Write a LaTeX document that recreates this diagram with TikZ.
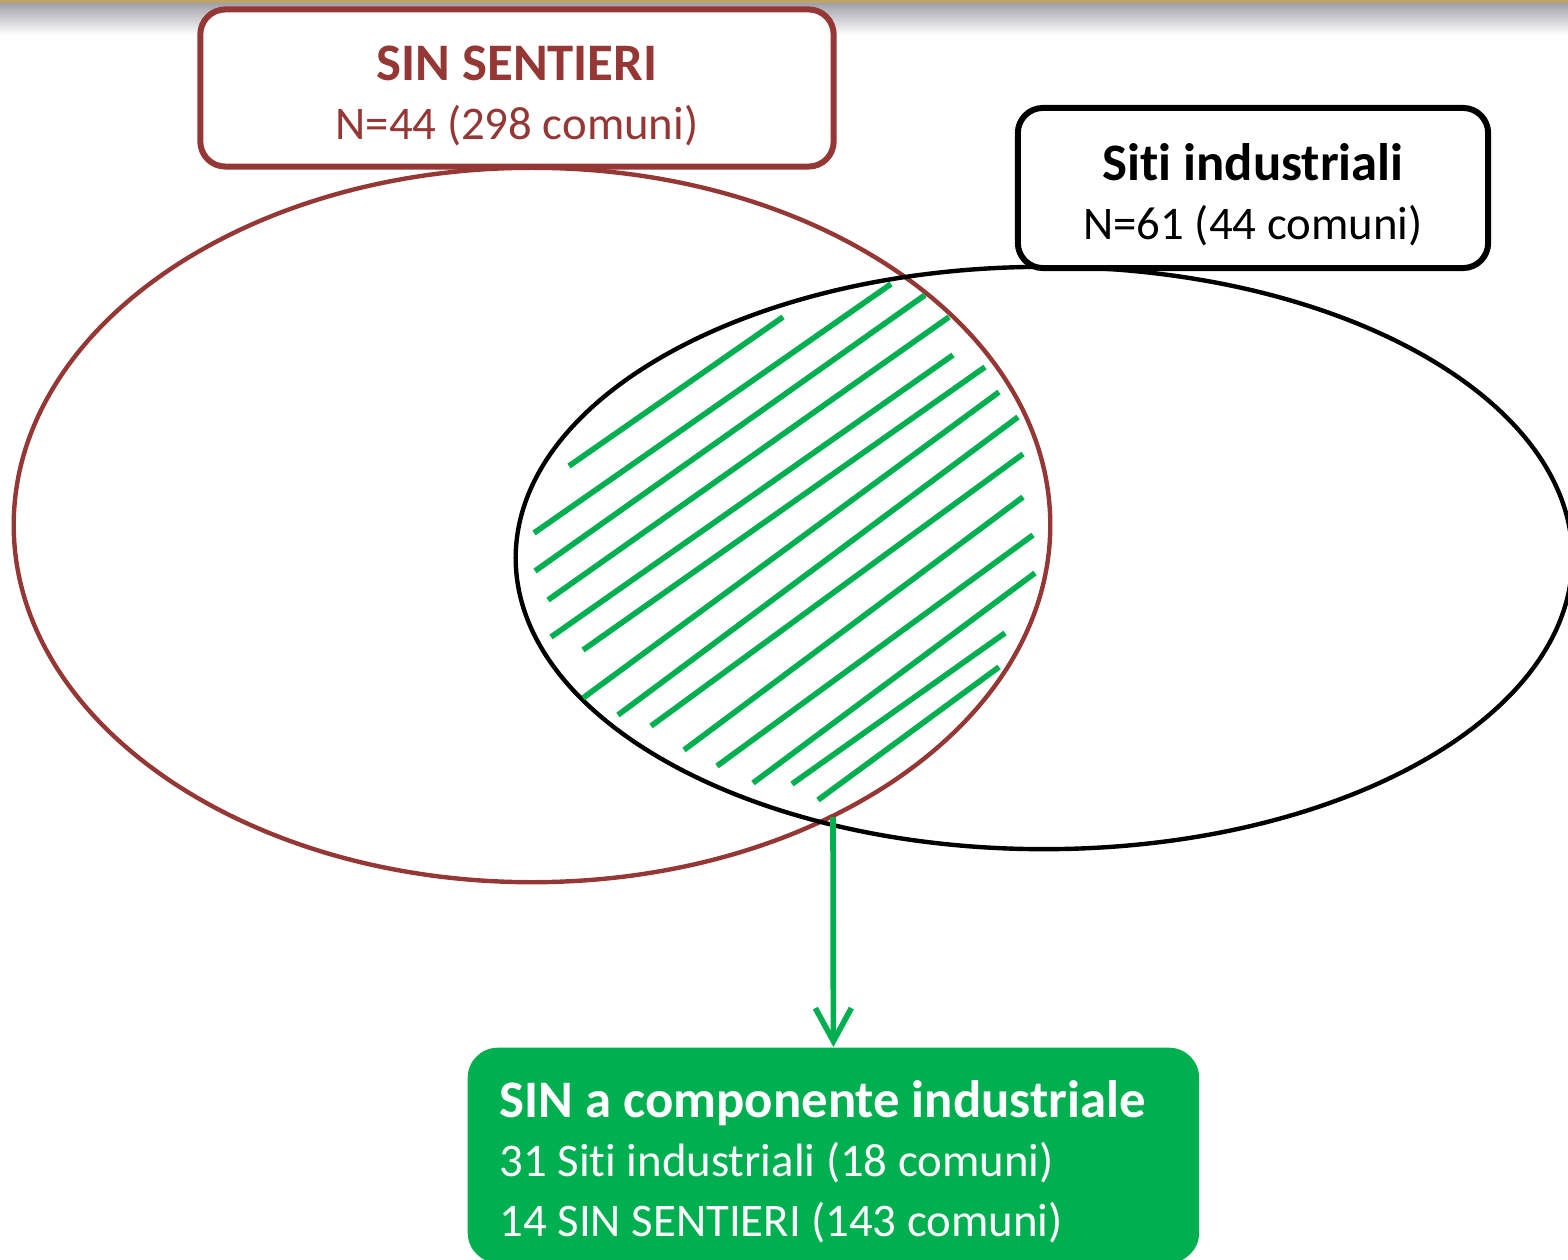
\documentclass[tikz,border=0pt]{standalone}
\usepackage{fontspec}
\setmainfont{Carlito}[Ligatures=NoCommon]
\usetikzlibrary{arrows.meta}

\definecolor{sinred}{RGB}{149,55,53}
\definecolor{sitigreen}{RGB}{0,176,80}
\definecolor{bartan}{RGB}{191,164,106}
\definecolor{barshade}{RGB}{160,160,168}

\newcommand{\headline}[1]{{\fontsize{15}{16.8}\selectfont\bfseries\rule{0pt}{14.2pt}#1}}

\tikzset{
  lbl/.style={font=\fontsize{13.3}{16.8}\selectfont, align=center},
  labelbox/.style={lbl, rounded corners=0.25cm, line width=1.7pt, fill=white, inner sep=0pt},
  venn/.style={line width=1.25pt},
  hatch/.style={sitigreen, line width=1.6pt},
}

\begin{document}
\begin{tikzpicture}[x=0.01cm, y=-0.01cm]
\useasboundingbox (0,0) rectangle (1568,1260);

% top bar
\shade[top color=barshade, bottom color=white] (0,3) rectangle (1568,35);
\fill[bartan] (0,0) rectangle (1568,3);

% the two sets
\draw[venn, sinred] (532,525) ellipse [x radius=5.18cm, y radius=3.57cm];
\draw[venn, black] (1044,558) ellipse [x radius=5.28cm, y radius=2.91cm];

% hatching of the overlap
\draw[hatch] (569,466) -- (783,317);
\draw[hatch] (534,533) -- (891,284);
\draw[hatch] (535,571) -- (925,295);
\draw[hatch] (548,600) -- (949,317);
\draw[hatch] (551,637) -- (953,355);
\draw[hatch] (583,650) -- (985,367);
\draw[hatch] (583,698) -- (999,392);
\draw[hatch] (618,715) -- (1018,417);
\draw[hatch] (651,726) -- (1023,454);
\draw[hatch] (684,750) -- (1023,497);
\draw[hatch] (717,766) -- (1033,535);
\draw[hatch] (753,783) -- (1035,573);
\draw[hatch] (792,784) -- (1005,633);
\draw[hatch] (818,800) -- (999,667);

% labels
\node[labelbox, draw=sinred, text=sinred, minimum width=6.33cm, minimum height=1.57cm] (sin) at (517,88) {\headline{SIN SENTIERI}\\N=44 (298 comuni)};
\node[labelbox, draw=black, minimum width=4.70cm, minimum height=1.60cm] (siti) at (1253,188) {\headline{Siti industriali}\\N=61 (44 comuni)};

\node[lbl, align=flush left, fill=sitigreen, text=white, rounded corners=0.3cm, text width=6.67cm, inner xsep=0.32cm, minimum height=2.15cm, anchor=north west] (comp) at (467,1047) {\headline{SIN a componente industriale}\\31 Siti industriali (18 comuni)\\14 SIN SENTIERI (143 comuni)};

\coordinate (cross) at (833,817);
\draw[sitigreen, line width=1.6pt, -{Straight Barb[length=0.33cm, width=0.36cm]}] (cross) -- (comp.north);
\end{tikzpicture}
\end{document}
